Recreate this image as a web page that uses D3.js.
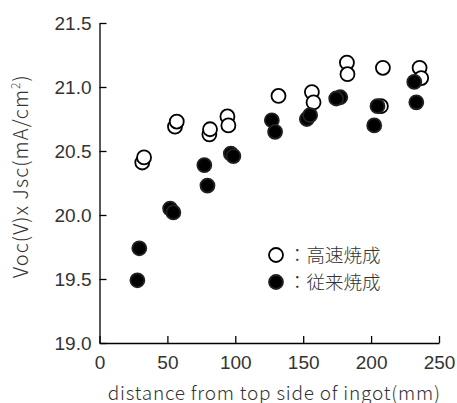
<!DOCTYPE html>
<meta charset="utf-8">
<style>
body { margin: 0; background: #fff; }
svg { font-family: "Noto Sans CJK JP", "Noto Sans", sans-serif; font-weight: 300; }
.axis path, .axis line { stroke: #000; stroke-width: 1.3px; }
.axis text { fill: #333; font-size: 19px; }
.title { fill: #333; font-size: 19px; }
.legend text { fill: #333; font-size: 18.5px; }
</style>
<svg></svg>
<script src="https://d3js.org/d3.v7.min.js"></script>
<script>

// 高速焼成 (open circles)
var fastX = [31.5, 32.8, 55.6, 56.9, 80.9, 81.4, 94.2, 94.9, 131.8, 156.4, 157.6, 182.2, 182.6, 208.7, 207.2, 235.7, 236.9];
var fastY = [20.41, 20.45, 20.69, 20.73, 20.63, 20.67, 20.77, 20.70, 20.93, 20.96, 20.88, 21.19, 21.10, 21.15, 20.85, 21.15, 21.07];

// 従来焼成 (filled circles)
var convX = [29.3, 27.9, 52.0, 54.4, 77.2, 79.5, 96.7, 98.6, 126.9, 129.3, 152.7, 155.1, 177.3, 174.3, 204.7, 202.3, 231.8, 233.3];
var convY = [19.74, 19.49, 20.05, 20.02, 20.39, 20.23, 20.48, 20.46, 20.74, 20.65, 20.75, 20.78, 20.92, 20.91, 20.85, 20.70, 21.04, 20.88];

var xTicks = [0, 50, 100, 150, 200, 250];
var yTicks = [19.0, 19.5, 20.0, 20.5, 21.0, 21.5];

var margin = { top: 23, right: 18, bottom: 60, left: 99.5 };
var width = 457 - margin.left - margin.right;
var height = 403 - margin.top - margin.bottom;

var x = d3.scaleLinear().domain([0, 250]).range([0, width]);
var y = d3.scaleLinear().domain([19, 21.5]).range([height, 0]);

var svg = d3.select('svg')
  .attr('width', 457)
  .attr('height', 403)
  .append('g')
  .attr('transform', 'translate(' + margin.left + ',' + margin.top + ')');

var xAxis = d3.axisBottom(x).tickValues(xTicks).tickSize(-7).tickSizeOuter(0).tickPadding(9);
var yAxis = d3.axisLeft(y).tickValues(yTicks).tickSize(-7).tickSizeOuter(0).tickPadding(8)
  .tickFormat(d3.format('.1f'));

svg.append('g')
  .attr('class', 'x axis')
  .attr('transform', 'translate(0,' + height + ')')
  .call(xAxis);

svg.append('g')
  .attr('class', 'y axis')
  .call(yAxis);

svg.selectAll('.x.axis .tick text').attr('dy', '0.87em');

svg.append('text')
  .attr('class', 'title')
  .attr('x', width / 2 + 5)
  .attr('y', height + 56.5)
  .attr('text-anchor', 'middle')
  .style('letter-spacing', '0.8px')
  .text('distance from top side of ingot(mm)');

svg.append('text')
  .attr('class', 'title')
  .attr('transform', 'translate(' + (-71.5) + ',' + (height / 2 - 7) + ') rotate(-90)')
  .attr('text-anchor', 'middle')
  .style('font-size', '20px')
  .style('letter-spacing', '1.1px')
  .html('Voc(V)x Jsc(mA/cm<tspan baseline-shift="super" font-size="12px">2</tspan>)');

var r = 7;

svg.append('g')
  .selectAll('circle')
  .data(d3.range(fastX.length))
  .enter().append('circle')
  .attr('cx', function (i) { return x(fastX[i]); })
  .attr('cy', function (i) { return y(fastY[i]); })
  .attr('r', r)
  .attr('fill', '#fff')
  .attr('stroke', '#000')
  .attr('stroke-width', 1.8);

svg.append('g')
  .selectAll('circle')
  .data(d3.range(convX.length))
  .enter().append('circle')
  .attr('cx', function (i) { return x(convX[i]); })
  .attr('cy', function (i) { return y(convY[i]); })
  .attr('r', r)
  .attr('fill', '#000')
  .attr('stroke', '#222')
  .attr('stroke-width', 1.8);

// legend
var legend = svg.append('g')
  .attr('class', 'legend')
  .attr('transform', 'translate(' + (276 - margin.left) + ',' + (255 - margin.top) + ')');

legend.append('circle').attr('r', r).attr('fill', '#fff').attr('stroke', '#000').attr('stroke-width', 1.8);
legend.append('circle').attr('cy', 27).attr('r', r).attr('fill', '#000').attr('stroke', '#222').attr('stroke-width', 1.8);
legend.append('text').attr('x', 12).attr('y', 6.5).text('：高速焼成');
legend.append('text').attr('x', 12).attr('y', 33.5).text('：従来焼成');

</script>
